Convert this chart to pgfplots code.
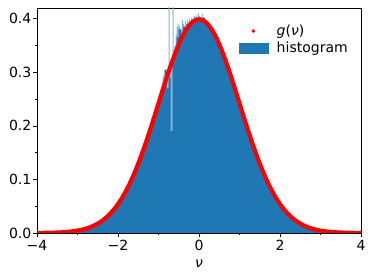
\documentclass[border=0pt]{standalone}
\usepackage{fontspec}
\setmainfont{DejaVu Sans}
\usepackage{pgfplots}
\pgfplotsset{compat=1.18}
\definecolor{tabblue}{HTML}{1F77B4}
\pgfplotstableread{
x y
-3.50 0.0010
-3.45 0.0010
-3.40 0.0015
-3.35 0.0014
-3.30 0.0020
-3.25 0.0021
-3.20 0.0027
-3.15 0.0029
-3.10 0.0037
-3.05 0.0040
-3.00 0.0049
-2.95 0.0054
-2.90 0.0066
-2.85 0.0072
-2.80 0.0087
-2.75 0.0095
-2.70 0.0114
-2.65 0.0125
-2.60 0.0148
-2.55 0.0162
-2.50 0.0190
-2.45 0.0207
-2.40 0.0242
-2.35 0.0262
-2.30 0.0306
-2.25 0.0330
-2.20 0.0382
-2.15 0.0410
-2.10 0.0470
-2.05 0.0505
-2.00 0.0575
-1.95 0.0618
-1.90 0.0695
-1.85 0.0745
-1.80 0.0835
-1.75 0.0895
-1.70 0.0990
-1.65 0.1055
-1.60 0.1160
-1.55 0.1240
-1.50 0.1350
-1.45 0.1440
-1.40 0.1560
-1.35 0.1660
-1.30 0.1790
-1.25 0.1900
-1.20 0.2030
-1.15 0.2150
-1.10 0.2280
-1.05 0.2400
-1.00 0.2540
-0.95 0.2680
-0.90 0.2800
-0.85 0.3050
-0.80 0.2700
-0.75 0.2900
-0.70 0.1900
-0.65 0.3200
-0.60 0.3400
-0.55 0.3650
-0.50 0.3800
-0.45 0.3650
-0.40 0.3850
-0.35 0.3800
-0.30 0.3900
-0.25 0.3880
-0.20 0.3950
-0.15 0.3900
-0.10 0.3980
-0.05 0.3950
0.00 0.4000
0.05 0.3980
0.10 0.4020
0.15 0.3950
0.20 0.3920
0.25 0.3880
0.30 0.3830
0.35 0.3780
0.40 0.3720
0.45 0.3660
0.50 0.3560
0.55 0.3460
0.60 0.3360
0.65 0.3260
0.70 0.3140
0.75 0.3020
0.80 0.2900
0.85 0.2780
0.90 0.2640
0.95 0.2520
1.00 0.2400
1.05 0.2280
1.10 0.2150
1.15 0.2030
1.20 0.1900
1.25 0.1780
1.30 0.1660
1.35 0.1550
1.40 0.1445
1.45 0.1340
1.50 0.1245
1.55 0.1150
1.60 0.1060
1.65 0.0980
1.70 0.0900
1.75 0.0825
1.80 0.0752
1.85 0.0690
1.90 0.0624
1.95 0.0570
2.00 0.0512
2.05 0.0465
2.10 0.0416
2.15 0.0376
2.20 0.0334
2.25 0.0302
2.30 0.0266
2.35 0.0240
2.40 0.0209
2.45 0.0188
2.50 0.0163
2.55 0.0146
2.60 0.0126
2.65 0.0113
2.70 0.0096
2.75 0.0086
2.80 0.0073
2.85 0.0065
2.90 0.0054
2.95 0.0049
3.00 0.0040
3.05 0.0036
3.10 0.0029
3.15 0.0026
3.20 0.0021
3.25 0.0019
3.30 0.0015
3.35 0.0014
3.40 0.0011
3.45 0.0010
3.50 0.0000
}\histtable
\pgfplotstableread{
x y
-0.900 0.2950
-0.875 0.2900
-0.850 0.3050
-0.825 0.3000
-0.800 0.2800
-0.775 0.2950
-0.750 0.4500
-0.725 0.3100
-0.700 0.3050
-0.675 0.3150
-0.650 0.4500
-0.625 0.3300
-0.600 0.3500
-0.575 0.3700
-0.550 0.3850
-0.525 0.3900
-0.500 0.3850
-0.475 0.3750
-0.450 0.3800
-0.425 0.3980
-0.400 0.3900
-0.375 0.3850
-0.350 0.3950
-0.325 0.3900
-0.300 0.3980
-0.275 0.3920
-0.250 0.4000
-0.225 0.3950
-0.200 0.4020
-0.175 0.3950
-0.150 0.4000
-0.125 0.4050
-0.100 0.4020
-0.075 0.4060
-0.050 0.4030
-0.025 0.4100
0.000 0.4050
0.025 0.4020
0.050 0.4000
0.075 0.4080
0.100 0.4000
0.125 0.3950
0.150 0.3980
0.175 0.3900
0.200 0.3950
0.225 0.0000
}\lighttable
\pgfplotstableread{
x y
-4.0 0.0001
-3.9 0.0002
-3.8 0.0003
-3.7 0.0004
-3.6 0.0006
-3.5 0.0009
-3.4 0.0012
-3.3 0.0017
-3.2 0.0024
-3.1 0.0033
-3.0 0.0044
-2.9 0.0060
-2.8 0.0079
-2.7 0.0104
-2.6 0.0136
-2.5 0.0175
-2.4 0.0224
-2.3 0.0283
-2.2 0.0355
-2.1 0.0440
-2.0 0.0540
-1.9 0.0656
-1.8 0.0790
-1.7 0.0940
-1.6 0.1109
-1.5 0.1295
-1.4 0.1497
-1.3 0.1714
-1.2 0.1942
-1.1 0.2179
-1.0 0.2420
-0.9 0.2661
-0.8 0.2897
-0.7 0.3123
-0.6 0.3332
-0.5 0.3521
-0.4 0.3683
-0.3 0.3814
-0.2 0.3910
-0.1 0.3970
0.0 0.3989
0.1 0.3970
0.2 0.3910
0.3 0.3814
0.4 0.3683
0.5 0.3521
0.6 0.3332
0.7 0.3123
0.8 0.2897
0.9 0.2661
1.0 0.2420
1.1 0.2179
1.2 0.1942
1.3 0.1714
1.4 0.1497
1.5 0.1295
1.6 0.1109
1.7 0.0940
1.8 0.0790
1.9 0.0656
2.0 0.0540
2.1 0.0440
2.2 0.0355
2.3 0.0283
2.4 0.0224
2.5 0.0175
2.6 0.0136
2.7 0.0104
2.8 0.0079
2.9 0.0060
3.0 0.0044
3.1 0.0033
3.2 0.0024
3.3 0.0017
3.4 0.0012
3.5 0.0009
3.6 0.0006
3.7 0.0004
3.8 0.0003
3.9 0.0002
4.0 0.0001
}\gtable
\begin{document}
\fontsize{14bp}{16.8bp}\selectfont
\begin{tikzpicture}
\path[use as bounding box] (-37bp,-47bp) rectangle (337bp,233bp);
\begin{axis}[
  scale only axis, width=324bp, height=225bp,
  at={(0,0)}, anchor=south west,
  xmin=-4, xmax=4, ymin=0, ymax=0.42,
  xtick={-4,-2,0,2,4}, xticklabels={−4,−2,0,2,4},
  minor xtick={-3,-1,1,3},
  ytick={0,0.1,0.2,0.3,0.4}, yticklabels={0.0,0.1,0.2,0.3,0.4},
  minor ytick={0.05,0.15,0.25,0.35},
  tick pos=left, tick align=outside,
  major tick length=3.5bp, minor tick length=2bp,
  tick style={black, line width=0.6bp},
  axis line style={line width=0.6bp},
  ticklabel style={font=\fontsize{14bp}{16.8bp}\selectfont},
  xticklabel style={inner sep=3.5bp},
  yticklabel style={inner sep=2bp},
  xlabel={\textit{ν}},
  xlabel style={font=\fontsize{14bp}{16.8bp}\selectfont, inner sep=2bp, yshift=-3bp},
  legend cell align=left,
  legend style={at={(axis description cs:0.975,0.945)}, anchor=north east,
    draw=none, fill=none, row sep=1bp,
    font=\fontsize{14bp}{16.8bp}\selectfont},
]
\addplot[ybar interval, fill=tabblue!55!white, draw=none, forget plot] table[x=x,y=y] {\lighttable};
\addplot[ybar interval, fill=tabblue, draw=none, forget plot] table[x=x,y=y] {\histtable};
\addplot[red, line width=4.2bp, smooth, line cap=round, forget plot] table[x=x,y=y] {\gtable};
\addlegendimage{legend image code/.code={\path[draw=none,fill=none] (0bp,-5bp) rectangle (36bp,5bp); \fill[red] (14.5bp,0bp) circle (1.6bp);}}
\addlegendentry{\textit{g}(\textit{ν})}
\addlegendimage{legend image code/.code={\path[draw=none,fill=none] (0bp,-5bp) rectangle (36bp,5bp); \fill[tabblue] (0bp,-5bp) rectangle (29bp,5bp);}}
\addlegendentry{histogram}
\end{axis}
\end{tikzpicture}
\end{document}
